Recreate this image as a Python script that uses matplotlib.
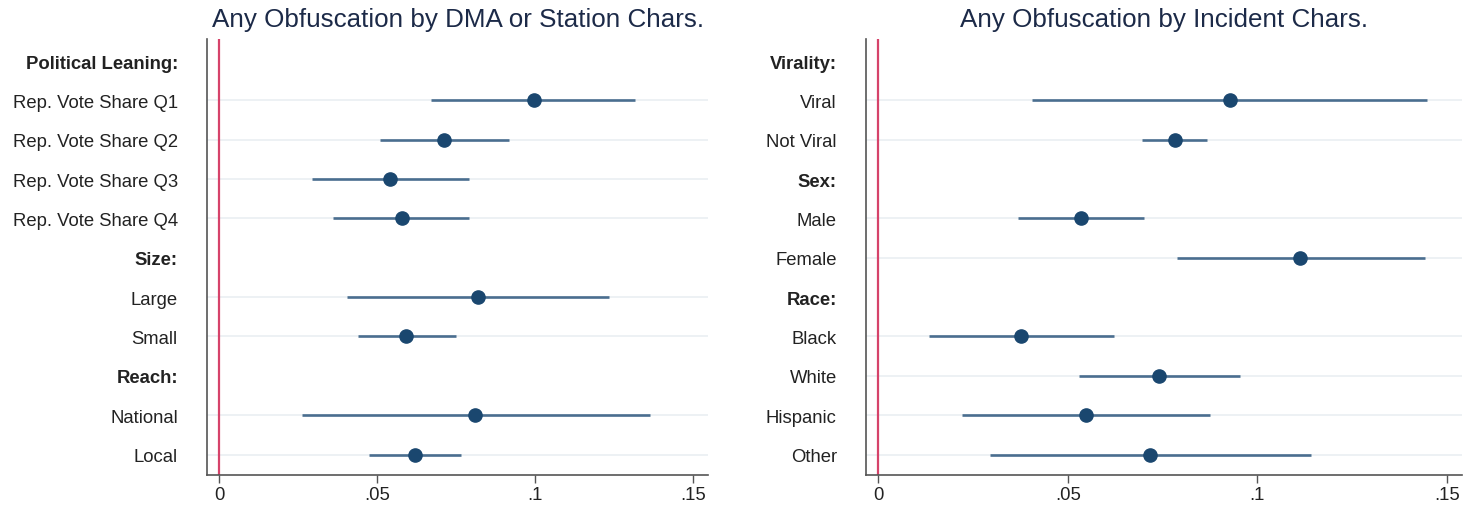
import matplotlib.pyplot as plt
import numpy as np

plt.rcParams['font.family'] = ['Liberation Sans', 'DejaVu Sans']

# painel esquerdo: características do DMA / estação
left_labels = ['Political Leaning:', 'Rep. Vote Share Q1', 'Rep. Vote Share Q2', 'Rep. Vote Share Q3',
               'Rep. Vote Share Q4', 'Size:', 'Large', 'Small', 'Reach:', 'National', 'Local']
left_header = [True, False, False, False, False, True, False, False, True, False, False]
left_est = [np.nan, 0.0995, 0.0712, 0.0542, 0.0578, np.nan, 0.0820, 0.0593, np.nan, 0.0811, 0.0620]
left_lo = [np.nan, 0.0672, 0.0509, 0.0295, 0.0362, np.nan, 0.0404, 0.0439, np.nan, 0.0263, 0.0473]
left_hi = [np.nan, 0.1315, 0.0918, 0.0792, 0.0792, np.nan, 0.1235, 0.0749, np.nan, 0.1362, 0.0766]

# painel direito: características do incidente
right_labels = ['Virality:', 'Viral', 'Not Viral', 'Sex:', 'Male', 'Female',
                'Race:', 'Black', 'White', 'Hispanic', 'Other']
right_header = [True, False, False, True, False, False, True, False, False, False, False]
right_est = [np.nan, 0.0928, 0.0782, np.nan, 0.0535, 0.1113, np.nan, 0.0377, 0.0742, 0.0547, 0.0718]
right_lo = [np.nan, 0.0407, 0.0696, np.nan, 0.0369, 0.0787, np.nan, 0.0134, 0.0529, 0.0220, 0.0296]
right_hi = [np.nan, 0.1449, 0.0868, np.nan, 0.0702, 0.1442, np.nan, 0.0621, 0.0954, 0.0875, 0.1141]

xticks = [0, 0.05, 0.1, 0.15]
xticklabels = ['0', '.05', '.1', '.15']

titles = ['Any Obfuscation by DMA or Station Chars.', 'Any Obfuscation by Incident Chars.']

fig = plt.figure(figsize=(14.64, 5.06), dpi=100)
ax1 = fig.add_axes([207 / 1464, 30 / 506, 501 / 1464, 436 / 506])
ax2 = fig.add_axes([866 / 1464, 30 / 506, 596 / 1464, 436 / 506])

panels = [
    (ax1, left_labels, left_header, left_est, left_lo, left_hi, (-0.0038, 0.1547)),
    (ax2, right_labels, right_header, right_est, right_lo, right_hi, (-0.0032, 0.154)),
]

for i, (ax, labels, header, est, lo, hi, xlim) in enumerate(panels):
    y = np.arange(len(labels))
    est = np.array(est)
    lo = np.array(lo)
    hi = np.array(hi)
    ok = ~np.array(header)

    for yy in y[ok]:
        ax.axhline(yy, color='#eaeff2', lw=1.2, zorder=0)
    ax.axvline(0, color='#d6436a', lw=1.6, zorder=1)
    ax.hlines(y[ok], lo[ok], hi[ok], color='#4a6e8f', lw=1.9, zorder=2)
    ax.plot(est[ok], y[ok], 'o', color='#1a476f', markersize=9.5, zorder=3)

    ax.set_ylim(len(labels) - 0.48, -0.56)
    ax.set_xlim(*xlim)
    ax.set_yticks(y)
    ax.set_yticklabels(labels)
    for t, h in zip(ax.get_yticklabels(), header):
        if h:
            t.set_fontweight('bold')
    ax.set_xticks(xticks)
    ax.set_xticklabels(xticklabels)
    ax.tick_params(axis='y', length=0, pad=21, labelsize=13.3, labelcolor='#222222')
    ax.tick_params(axis='x', length=6, width=1, color='#555555', pad=2, labelsize=13.3, labelcolor='#222222')

    for s in ['top', 'right']:
        ax.spines[s].set_visible(False)
    for s in ['left', 'bottom']:
        ax.spines[s].set_color('#555555')
        ax.spines[s].set_linewidth(1.2)

    ax.set_title(titles[i], fontsize=18.7, color='#1c2a48', pad=9)

fig.savefig('out.png', dpi=100, facecolor='white')
